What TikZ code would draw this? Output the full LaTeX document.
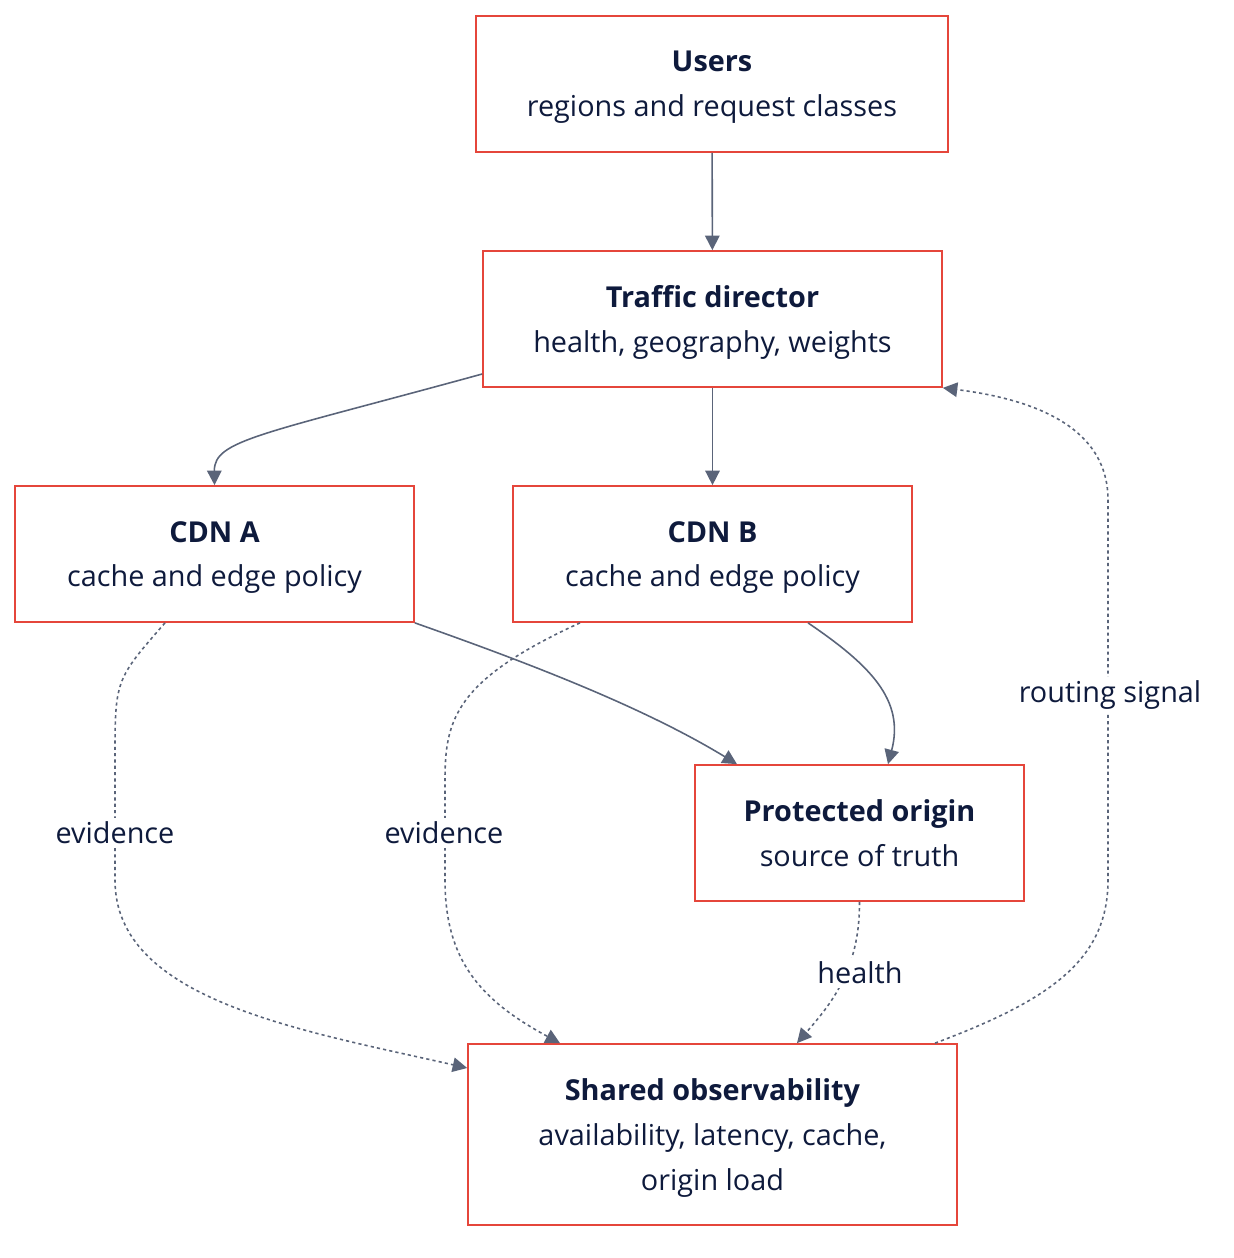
\documentclass[tikz,border=0pt]{standalone}
\usepackage{fontspec}
\setmainfont{Open Sans}
\usetikzlibrary{arrows.meta}
\definecolor{edgered}{HTML}{E5463B}
\definecolor{inkblue}{HTML}{0E1A3C}
\definecolor{slate}{HTML}{5A6479}

\begin{document}
\begin{tikzpicture}[
  x=0.02cm, y=-0.02cm,
  font=\fontsize{16.4}{25.5}\selectfont, text=inkblue,
  box/.style={rectangle, draw=edgered, line width=1pt, fill=white,
              minimum height=2.72cm, align=center, inner sep=0pt, text depth=0pt},
  ar/.style={-{Triangle[length=2.9mm, width=2.9mm]}, draw=slate, line width=0.9pt},
  dar/.style={ar, dash pattern=on 1.8pt off 1.8pt},
  lbl/.style={fill=white, inner sep=2pt}
]
\useasboundingbox (0,0) rectangle (1234,1258);

% nodes
\node[box, minimum width=9.44cm] (users) at (712,84)
  {\textbf{Users}\\regions and request classes};
\node[box, minimum width=9.18cm] (td) at (712.5,319)
  {\textbf{Traffic director}\\health, geography, weights};
\node[box, minimum width=7.98cm] (cdna) at (214.5,554)
  {\textbf{CDN A}\\cache and edge policy};
\node[box, minimum width=7.98cm] (cdnb) at (712.5,554)
  {\textbf{CDN B}\\cache and edge policy};
\node[box, minimum width=6.58cm] (po) at (859.5,833)
  {\textbf{Protected origin}\\source of truth};
\node[box, minimum width=9.78cm, minimum height=3.62cm] (obs) at (712.5,1134.5)
  {\textbf{Shared observability}\\availability, latency, cache,\\origin load};

% traffic path
\draw[ar] (users) -- (td);
\draw[ar] (td) -- (cdnb);
\draw[ar] (td.west |- 0,374) .. controls (260,435) and (214,440) .. (cdna.north);
\draw[ar] (cdna.south east) .. controls (520,660) and (640,705) .. (po.north west -| 737,0);
\draw[ar] (cdnb.south -| 808,0) .. controls (870,665) and (905,700) .. (po.north -| 888,0);

% evidence and signals
\draw[dar] (cdna.south -| 165,0) .. controls (115,680) .. (115,760) -- (115,880)
  .. controls (115,1000) and (300,1030) .. (obs.west |- 0,1068);
\node[lbl] (eva) at (115,833) {evidence};
\draw[dar] (cdnb.south -| 580,0) .. controls (455,680) and (445,720) .. (445,780) -- (445,880)
  .. controls (445,960) and (480,1000) .. (obs.north -| 560,0);
\node[lbl] (evb) at (444,833) {evidence};
\draw[dar] (po.south) .. controls (860,970) and (830,1005) .. (obs.north -| 797,0);
\node[lbl] (hl) at (860,973) {health};
\draw[dar] (obs.north -| 935,0) .. controls (1050,1000) and (1108,960) .. (1108,880) -- (1108,500)
  .. controls (1108,430) and (1040,400) .. (td.south east);
\node[lbl] (rs) at (1110,695) {routing signal};
\end{tikzpicture}
\end{document}
